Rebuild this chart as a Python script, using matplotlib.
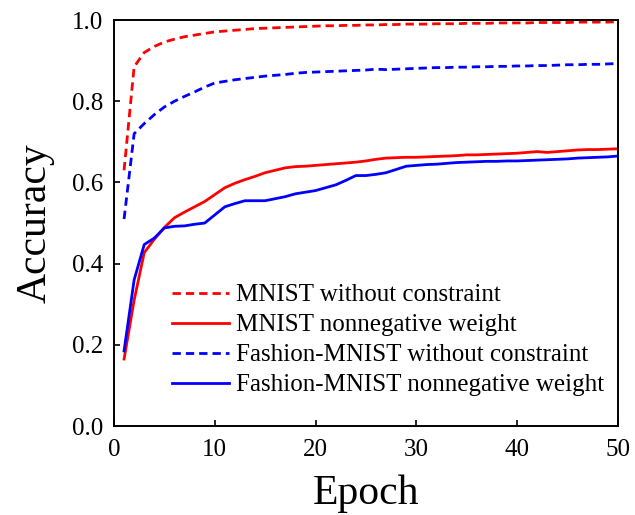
import matplotlib
matplotlib.use("Agg")
import matplotlib.pyplot as plt
import numpy as np

epochs = list(range(1, 51))

mnist_free = [0.63, 0.885, 0.92, 0.935, 0.946, 0.953, 0.959, 0.963, 0.967, 0.971,
              0.973, 0.975, 0.977, 0.979, 0.980, 0.981, 0.982, 0.983, 0.984, 0.985,
              0.986, 0.986, 0.987, 0.987, 0.988, 0.988, 0.989, 0.989, 0.990, 0.990,
              0.990, 0.991, 0.991, 0.991, 0.992, 0.992, 0.992, 0.993, 0.993, 0.993,
              0.993, 0.994, 0.994, 0.994, 0.994, 0.995, 0.995, 0.995, 0.995, 0.996]

mnist_nonneg = [0.165, 0.31, 0.427, 0.46, 0.489, 0.513, 0.527, 0.54, 0.553, 0.57,
                0.587, 0.598, 0.607, 0.615, 0.624, 0.63, 0.636, 0.639, 0.64, 0.642,
                0.644, 0.646, 0.648, 0.650, 0.653, 0.657, 0.660, 0.661, 0.662, 0.662,
                0.663, 0.664, 0.665, 0.666, 0.668, 0.668, 0.669, 0.670, 0.671, 0.672,
                0.674, 0.676, 0.674, 0.676, 0.678, 0.680, 0.681, 0.681, 0.682, 0.683]

fashion_free = [0.51, 0.72, 0.745, 0.767, 0.786, 0.80, 0.812, 0.823, 0.835, 0.845,
                0.849, 0.853, 0.856, 0.859, 0.862, 0.864, 0.866, 0.869, 0.871, 0.872,
                0.873, 0.874, 0.875, 0.876, 0.877, 0.879, 0.878, 0.879, 0.880, 0.881,
                0.882, 0.883, 0.883, 0.884, 0.884, 0.885, 0.885, 0.886, 0.886, 0.887,
                0.887, 0.888, 0.888, 0.889, 0.890, 0.890, 0.891, 0.891, 0.892, 0.893]

fashion_nonneg = [0.185, 0.36, 0.447, 0.463, 0.488, 0.492, 0.493, 0.497, 0.50, 0.52,
                  0.54, 0.548, 0.555, 0.555, 0.555, 0.56, 0.565, 0.572, 0.576, 0.58,
                  0.587, 0.594, 0.605, 0.617, 0.617, 0.62, 0.624, 0.632, 0.64, 0.642,
                  0.644, 0.645, 0.647, 0.649, 0.65, 0.651, 0.652, 0.652, 0.653, 0.653,
                  0.654, 0.655, 0.656, 0.657, 0.658, 0.660, 0.661, 0.662, 0.663, 0.665]

labels = ["MNIST without constraint", "MNIST nonnegative weight",
          "Fashion-MNIST without constraint", "Fashion-MNIST nonnegative weight"]

plt.rcParams['font.family'] = ['Liberation Serif', 'DejaVu Serif']

fig = plt.figure(figsize=(6.35, 5.15), dpi=100)
ax = fig.add_axes([0.1795, 0.1728, 0.7935, 0.7882])

lw = 2.0
dash = (3.0, 1.8)
ax.plot(epochs, mnist_free, color='#ff0000', lw=lw, ls=(0, dash), label=labels[0])
ax.plot(epochs, mnist_nonneg, color='#ff0000', lw=lw, ls='-', label=labels[1])
ax.plot(epochs, fashion_free, color='#0000ff', lw=lw, ls=(0, dash), label=labels[2])
ax.plot(epochs, fashion_nonneg, color='#0000ff', lw=lw, ls='-', label=labels[3])

ax.set_xlim(0, 50)
ax.set_ylim(0.0, 1.0)
ax.set_xticks([0, 10, 20, 30, 40, 50])
ax.set_yticks([0.0, 0.2, 0.4, 0.6, 0.8, 1.0])
ax.set_yticklabels(["0.0", "0.2", "0.4", "0.6", "0.8", "1.0"])
ax.tick_params(direction='in', length=4, width=1.2, labelsize=18)
ax.tick_params(axis='y', pad=8)
ax.tick_params(axis='x', pad=9)
for s in ax.spines.values():
    s.set_linewidth(1.4)

ax.set_xlabel("Epoch", fontsize=30, labelpad=10)
ax.set_ylabel("Accuracy", fontsize=30, labelpad=12)

ax.legend(loc='lower left', bbox_to_anchor=(0.08, 0.03), frameon=False,
          fontsize=18, handlelength=2.3, handletextpad=0.25, labelspacing=0.3,
          borderpad=0.2)

fig.savefig("out.png", dpi=100)
